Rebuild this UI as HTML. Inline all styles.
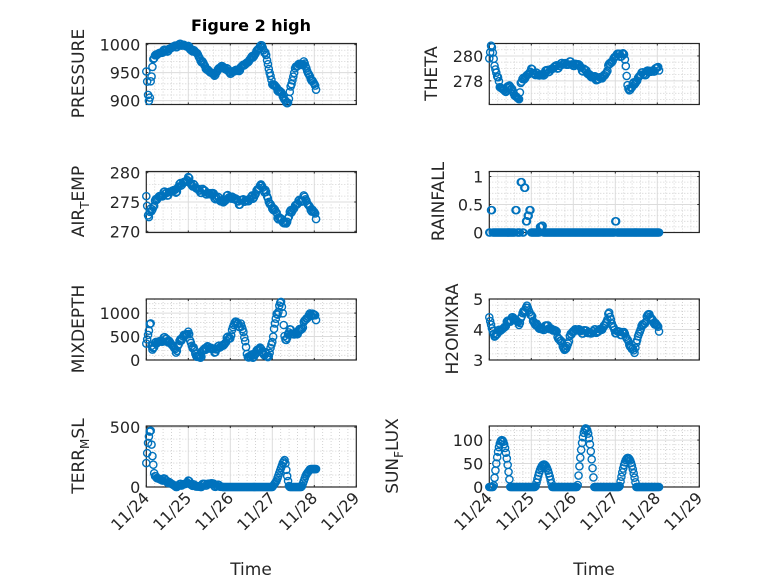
<!DOCTYPE html>
<html><head><meta charset="utf-8"><style>
html,body{margin:0;padding:0;background:#fff;}
svg{display:block;font-family:"DejaVu Sans","Liberation Sans",sans-serif;}
</style></head><body>
<svg id="s" width="778" height="583" xmlns="http://www.w3.org/2000/svg">
<rect width="778" height="583" fill="#fff"/>
<text x="251" y="31" text-anchor="middle" font-weight="bold" font-size="16" fill="#000">Figure 2 high</text>
<text x="251" y="575" text-anchor="middle" font-size="17" fill="#262626">Time</text>
<text x="594" y="575" text-anchor="middle" font-size="17" fill="#262626">Time</text>
</svg>
<script>
var S=document.getElementById('s'),NS='http://www.w3.org/2000/svg';
function el(t,a,txt){var e=document.createElementNS(NS,t);for(var k in a)e.setAttribute(k,a[k]);if(txt!==undefined)e.textContent=txt;S.appendChild(e);return e;}
function interp(kp,t){if(t<=kp[0][0])return kp[0][1];for(var i=1;i<kp.length;i++){if(t<=kp[i][0]){var a=kp[i-1],b=kp[i];return a[1]+(b[1]-a[1])*(t-a[0])/(b[0]-a[0]);}}return kp[kp.length-1][1];}
function plot(o){
 var x0=o.x,x1=o.x+210,y0=o.y,y1=o.y+61,H=61;
 function Y(v){return y1-(v-o.min)/(o.max-o.min)*H;}
 el('rect',{x:x0,y:y0,width:210,height:H,fill:'#fff'});
 for(var d=0;d<5;d++)for(var m=1;m<5;m++){var xx=x0+d*42+m*8.4;el('line',{x1:xx,x2:xx,y1:y0,y2:y1,stroke:'#c8c8c8','stroke-width':0.8,'stroke-dasharray':'1,2'});}
 o.minor.forEach(function(v){var yy=Y(v);if(yy>y0&&yy<y1)el('line',{x1:x0,x2:x1,y1:yy,y2:yy,stroke:'#c8c8c8','stroke-width':0.8,'stroke-dasharray':'1,2'});});
 for(var d=1;d<5;d++){var xx=x0+d*42;el('line',{x1:xx,x2:xx,y1:y0,y2:y1,stroke:'#dcdcdc','stroke-width':1});}
 o.ticks.forEach(function(v){var yy=Y(v);el('line',{x1:x0,x2:x1,y1:yy,y2:yy,stroke:'#dcdcdc','stroke-width':1});
   el('line',{x1:x0,x2:x0+2,y1:yy,y2:yy,stroke:'#262626'});el('line',{x1:x1-2,x2:x1,y1:yy,y2:yy,stroke:'#262626'});
   el('text',{x:x0-6,y:yy+6,'text-anchor':'end','font-size':16,fill:'#262626'},String(v));});
 for(var d=0;d<=5;d++){var xx=x0+d*42;el('line',{x1:xx,x2:xx,y1:y1-2,y2:y1,stroke:'#262626'});el('line',{x1:xx,x2:xx,y1:y0,y2:y0+2,stroke:'#262626'});}
 el('rect',{x:x0,y:y0,width:210,height:H,fill:'none',stroke:'#262626','stroke-width':1.2});
 var g=el('g',{fill:'none',stroke:'#0072BD','stroke-width':1.4});
 for(var i=0;i<=194;i++){var t=i/48;if(o.gap&&t>o.gap[0]&&t<o.gap[1])continue;var v=o.f(t,i/2|0);
   var c=document.createElementNS(NS,'circle');c.setAttribute('cx',x0+t*42);c.setAttribute('cy',Y(v));c.setAttribute('r',3.6);g.appendChild(c);}
 var lx=o.lx,ly=y0+30;var tx=el('text',{x:lx,y:ly,'text-anchor':'middle','font-size':17,fill:'#262626',transform:'rotate(-90 '+lx+' '+ly+')'});
 tx.innerHTML=o.lab;
 if(o.xl){for(var d=0;d<=5;d++){var xx=x0+d*42+4,yy=y1+12;el('text',{x:xx,y:yy,'text-anchor':'end','font-size':16,fill:'#262626',transform:'rotate(-45 '+xx+' '+yy+')'},'11/'+(24+d));}}
}
function n(i,a){return a*Math.sin(i*2.7)*Math.cos(i*1.3);}
var L=146.3,R=489.3;
plot({x:L,y:43.5,min:893,max:1002,ticks:[900,950,1000],minor:[910,920,930,940,960,970,980,990],lx:84,lab:'PRESSURE',
 f:function(t,i){return interp([[0,952],[0.02,935],[0.05,900],[0.08,898],[0.1,930],[0.13,948],[0.16,975],[0.3,985],[0.5,990],[0.7,998],[0.9,1000],[1.0,995],[1.2,985],[1.4,960],[1.6,945],[1.8,962],[2.0,950],[2.2,955],[2.5,975],[2.75,1000],[2.85,980],[3.0,930],[3.2,915],[3.3,900],[3.38,896],[3.45,928],[3.55,960],[3.75,968],[3.85,950],[4.04,922]],t)+n(i,3);}});
plot({x:R,y:43.5,min:276.1,max:281,ticks:[278,280],minor:[276.5,277,277.5,278.5,279,279.5,280.5],lx:437,lab:'THETA',
 f:function(t,i){return interp([[0,279.8],[0.05,281],[0.1,279.7],[0.15,279],[0.25,277.5],[0.4,277.2],[0.5,277.7],[0.6,276.8],[0.7,276.5],[0.75,277.8],[0.9,278.5],[1.0,278.8],[1.2,278.4],[1.5,279],[1.8,279.4],[2.1,279.3],[2.5,278.2],[2.7,278.2],[2.9,279.5],[3.0,280],[3.2,280.2],[3.25,279.2],[3.3,277.3],[3.4,277.5],[3.6,278.5],[4.04,279]],t)+n(i,0.2);}});
plot({x:L,y:171.5,min:269.8,max:280.2,ticks:[270,275,280],minor:[272,274,276,278],lx:84,lab:'AIR<tspan font-size="12" dy="5">T</tspan><tspan dy="-5">EMP</tspan>',
 f:function(t,i){return interp([[0,276],[0.05,272],[0.1,273.5],[0.3,276],[0.5,276.5],[0.7,277],[0.9,278.5],[1.0,278.8],[1.2,277.2],[1.6,276.2],[1.8,275],[2.0,276],[2.2,275],[2.5,275.5],[2.75,278],[2.9,275.5],[3.0,274],[3.2,272],[3.3,271.2],[3.5,274],[3.75,275.8],[4.04,272.5]],t)+n(i,0.5);}});
var rain={1:0.4,15:0.4,18:0.9,20:0.8,21:0.2,22:0.3,23:0.4,29:0.1,30:0.12,72:0.2};
plot({x:R,y:171.5,min:0,max:1.09,ticks:[0,0.5,1],minor:[0.1,0.2,0.3,0.4,0.6,0.7,0.8,0.9],lx:444,lab:'RAINFALL',
 f:function(t,i){return rain[i]||0;}});
plot({x:L,y:299,min:0,max:1300,ticks:[0,500,1000],minor:[100,200,300,400,600,700,800,900,1100,1200],lx:84,lab:'MIXDEPTH',
 f:function(t,i){return Math.max(0,interp([[0,350],[0.07,650],[0.1,820],[0.13,250],[0.3,400],[0.5,450],[0.7,200],[0.9,550],[1.0,550],[1.1,300],[1.2,50],[1.3,100],[1.45,300],[1.6,200],[1.8,300],[2.0,500],[2.1,800],[2.25,750],[2.35,450],[2.4,100],[2.5,50],[2.7,250],[2.9,50],[3.0,400],[3.1,950],[3.2,1250],[3.25,1000],[3.3,400],[3.4,600],[3.6,550],[3.9,1000],[4.04,900]],t)+n(i,60));}});
plot({x:R,y:299,min:3,max:5,ticks:[3,4,5],minor:[3.2,3.4,3.6,3.8,4.2,4.4,4.6,4.8],lx:458,lab:'H2OMIXRA',
 f:function(t,i){return interp([[0,4.4],[0.1,3.8],[0.3,4.0],[0.55,4.4],[0.7,4.2],[0.9,4.8],[1.0,4.4],[1.2,4.0],[1.4,4.1],[1.6,3.9],[1.8,3.3],[2.0,4.0],[2.4,3.9],[2.7,4.0],[2.85,4.5],[3.0,3.9],[3.2,3.9],[3.35,3.5],[3.45,3.2],[3.5,3.6],[3.6,4.0],[3.8,4.5],[4.04,4.0]],t)+n(i,0.08);}});
plot({x:L,y:426,min:0,max:510,ticks:[0,500],minor:[100,200,300,400],lx:84,lab:'TERR<tspan font-size="12" dy="5">M</tspan><tspan dy="-5">SL</tspan>',xl:1,
 f:function(t,i){return Math.max(0,interp([[0,200],[0.05,400],[0.1,480],[0.15,250],[0.2,80],[0.5,50],[0.7,0],[1.0,40],[1.2,0],[1.5,30],[1.8,0],[3.0,0],[3.1,50],[3.25,200],[3.3,230],[3.35,100],[3.4,0],[3.7,0],[3.8,100],[3.9,150],[4.04,150]],t)+(t<1.8?n(i,15):0));}});
plot({x:R,y:426,min:0,max:130,ticks:[0,50,100],minor:[10,20,30,40,60,70,80,90,110,120],lx:398,lab:'SUN<tspan font-size="12" dy="5">F</tspan><tspan dy="-5">LUX</tspan>',xl:1,
 f:function(t,i){var pk=[[0.3,100],[1.3,48],[2.3,125],[3.3,62]],v=0;pk.forEach(function(p){var d=(t-p[0])/0.2;if(Math.abs(d)<1)v=Math.max(v,p[1]*Math.cos(d*Math.PI/2));});return v;}});
</script>
</body></html>
